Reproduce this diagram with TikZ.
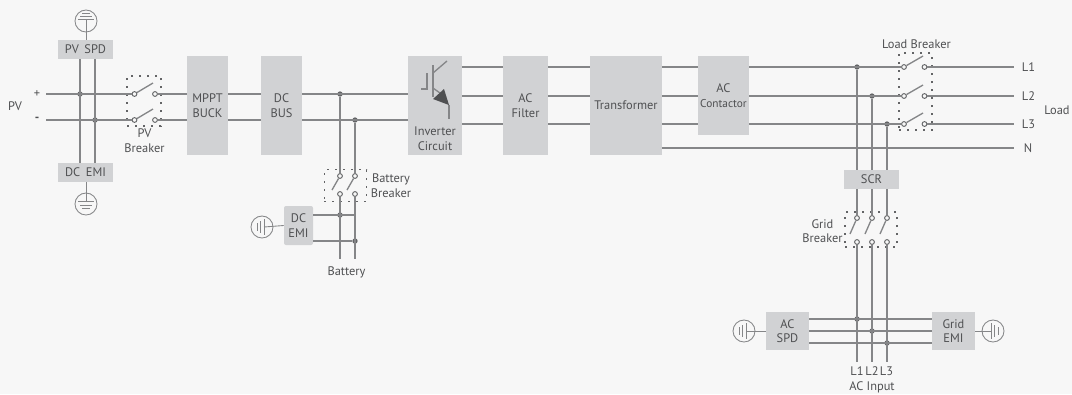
\documentclass[tikz,border=0pt]{standalone}
\usepackage{fontspec}
\setmainfont{PT Sans}
\definecolor{bg}{HTML}{F7F7F7}
\definecolor{boxc}{HTML}{D1D2D4}
\definecolor{wire}{HTML}{858688}
\definecolor{ink}{HTML}{4F5052}
\definecolor{dotc}{HTML}{636466}
\newcommand{\bx}[6]{\node[block,minimum width=#4*.75pt-#2*.75pt,minimum height=#5*.75pt-#3*.75pt,align=center] (#1) at ({(#2+#4)/2},{(#3+#5)/2}) {#6};}
\newcommand{\gndh}[4]{% name, cx, cy, dir
  \node[gnd] (#1) at (#2,#3) {};
  \draw[thinw] (#2+#4*2,#3-8) -- (#2+#4*2,#3+8);
  \draw[thinw] (#2-#4*1.5,#3-6) -- (#2-#4*1.5,#3+6);
  \draw[thinw] (#2-#4*5,#3-4) -- (#2-#4*5,#3+4);
}
\newcommand{\sw}[5]{% name, x,y, blade end dx, dy
  \node[contact] (#1) at (#2,#3) {};
  \draw[wireline] (#1) -- ++(#4,#5);
}
\tikzset{
  block/.style={fill=boxc,inner sep=0pt,text=ink,font=\fontsize{9.3pt}{11pt}\selectfont},
  lab/.style={inner sep=0pt,text=ink,align=center,font=\fontsize{9.3pt}{11pt}\selectfont},
  wireline/.style={draw=wire,line width=1pt},
  thinw/.style={draw=wire,line width=.65pt},
  contact/.style={circle,draw=dotc,fill=bg,line width=.7pt,inner sep=0pt,minimum size=3.6pt},
  dotj/.style={circle,fill=dotc,inner sep=0pt,minimum size=4pt},
  dotbox/.style={draw=dotc,line width=.85pt,dash pattern=on 1.5pt off 4.5pt,inner sep=0pt},
  gnd/.style={circle,draw=wire,line width=.65pt,inner sep=0pt,minimum size=16.5pt},
}
\begin{document}
\begin{tikzpicture}[x=.75pt,y=-.75pt]
\useasboundingbox (0,0) rectangle (1072,394);
\fill[bg] (0,0) rectangle (1072,394);

% blocks
\bx{pvspd}{58}{40}{113}{59}{PV\hspace{.45em}SPD}
\bx{dcemi}{58}{163}{113}{182}{DC\hspace{.45em}EMI}
\bx{mppt}{187}{56}{228}{155}{MPPT\\BUCK}
\bx{dcbus}{261}{56}{302}{155}{DC\\BUS}
\node[block,minimum width=40.5pt,minimum height=74.25pt] (inv) at (435,105.5) {};
\bx{acf}{503}{56}{548}{155}{AC\\Filter}
\bx{trans}{590}{56}{662}{155}{Transformer}
\bx{acc}{698}{56}{749}{135}{AC\\{\fontsize{8.5pt}{11pt}\selectfont Contactor}}
\bx{scr}{844}{170}{899}{189}{SCR}
\node[block,rounded corners=1.5pt,minimum width=21.75pt,minimum height=29.25pt,align=center] (bemi) at (298.5,225.5) {DC\\EMI};
\bx{acspd}{766}{312}{809}{350}{AC\\SPD}
\bx{gemi}{932}{312}{975}{350}{Grid\\EMI}
\node[lab] (invt) at (435,138.5) {Inverter\\Circuit};

% free ends
\coordinate (pvp) at (46,94);
\coordinate (pvn) at (46,120);
\coordinate (l1e) at (1014,67);
\coordinate (l2e) at (1014,96);
\coordinate (l3e) at (1014,124);
\coordinate (ne) at (1014,148);
\coordinate (ba) at (340,259);
\coordinate (bb) at (355,259);
\coordinate (ia) at (857,362);
\coordinate (ib) at (872,362);
\coordinate (ic) at (887,362);

% dotted boxes
\node[dotbox,minimum width=25.5pt,minimum height=37.5pt] (pvbrk) at (144,101) {};
\node[dotbox,minimum width=32pt,minimum height=23.5pt] (batbrk) at (345.5,185.5) {};
\node[dotbox,minimum width=39pt,minimum height=26.25pt] (grbrk) at (871,229.5) {};
\node[dotbox,minimum width=24.75pt,minimum height=57.75pt] (lbrk) at (915.5,91.5) {};

% junctions
\node[dotj] (j1) at (80,94) {};
\node[dotj] (j2) at (95,120) {};
\node[dotj] (j3) at (340,94) {};
\node[dotj] (j4) at (355,120) {};
\node[dotj] (j5) at (340,215) {};
\node[dotj] (j6) at (355,241) {};
\node[dotj] (j7) at (857,67) {};
\node[dotj] (j8) at (872,96) {};
\node[dotj] (j9) at (887,124) {};
\node[dotj] (j10) at (857,319) {};
\node[dotj] (j11) at (872,331) {};
\node[dotj] (j12) at (887,343) {};

% switches
\sw{pa}{134.5}{94}{18.5}{-11}
\sw{pb}{134.5}{120}{18.5}{-11}
\node[contact] (pc) at (155,94) {};
\node[contact] (pd) at (155,120) {};
\sw{ba1}{340}{176}{-8}{14}
\sw{bb1}{355}{176}{-8}{14}
\node[contact] (ba2) at (340,194) {};
\node[contact] (bb2) at (355,194) {};
\sw{ga1}{857}{218}{-7}{16}
\sw{gb1}{872}{218}{-7}{16}
\sw{gc1}{887}{218}{-7}{16}
\node[contact] (ga2) at (857,242) {};
\node[contact] (gb2) at (872,242) {};
\node[contact] (gc2) at (887,242) {};
\sw{la1}{904}{67}{19}{-11}
\sw{lb1}{904}{96}{19}{-11}
\sw{lc1}{904}{124}{19}{-11}
\node[contact] (la2) at (924.5,67) {};
\node[contact] (lb2) at (924.5,96) {};
\node[contact] (lc2) at (924.5,124) {};

% wires
\draw[wireline] (pvp) -- (pa) (pc) -- (pc -| mppt.west);
\draw[wireline] (pvn) -- (pb) (pd) -- (pd -| mppt.west);
\draw[wireline] (j1 |- pvspd.south) -- (j1 |- dcemi.north);
\draw[wireline] (j2 |- pvspd.south) -- (j2 |- dcemi.north);
\draw[wireline] (pc -| mppt.east) -- (pc -| dcbus.west) (pd -| mppt.east) -- (pd -| dcbus.west);
\draw[wireline] (pc -| dcbus.east) -- (pc -| inv.west) (pd -| dcbus.east) -- (pd -| inv.west);
\draw[wireline] (j3) -- (ba1) (j4) -- (bb1);
\draw[wireline] (ba2) -- (ba) (bb2) -- (bb);
\draw[wireline] (j5 -| bemi.east) -- (j5 -| bb) (j6 -| bemi.east) -- (j6);
\foreach \c in {l1e,l2e,l3e}{
  \draw[wireline] (\c -| inv.east) -- (\c -| acf.west);
  \draw[wireline] (\c -| acf.east) -- (\c -| trans.west);
  \draw[wireline] (\c -| trans.east) -- (\c -| acc.west);
}
\draw[wireline] (l1e -| acc.east) -- (la1) (la2) -- (l1e);
\draw[wireline] (l2e -| acc.east) -- (lb1) (lb2) -- (l2e);
\draw[wireline] (l3e -| acc.east) -- (lc1) (lc2) -- (l3e);
\draw[wireline] (ne -| trans.east) -- (ne);
\draw[wireline] (j7) -- (j7 |- scr.north) (j8) -- (j8 |- scr.north) (j9) -- (j9 |- scr.north);
\draw[wireline] (ga1 |- scr.south) -- (ga1) (gb1 |- scr.south) -- (gb1) (gc1 |- scr.south) -- (gc1);
\draw[wireline] (ga2) -- (ia) (gb2) -- (ib) (gc2) -- (ic);
\foreach \j in {j10,j11,j12}{
  \draw[wireline] (\j -| acspd.east) -- (\j -| gemi.west);
}

% grounds
\node[gnd] (g1) at (86,21) {};
\draw[thinw] (78,19.5) -- (94,19.5) (80,16.5) -- (92,16.5) (82,13.5) -- (90,13.5);
\draw[thinw] (86,19.5) -- (86,21 |- pvspd.north);
\node[gnd] (g2) at (86,204) {};
\draw[thinw] (78,201.5) -- (94,201.5) (80,205) -- (92,205) (82,208.5) -- (90,208.5);
\draw[thinw] (86,182) -- (86,201.5);
\gndh{g3}{262}{227}{1}
\draw[thinw] (264,227) -- (bemi.west);
\gndh{g4}{744}{331}{1}
\draw[thinw] (746,331) -- (acspd.west);
\gndh{g5}{993}{331}{-1}
\draw[thinw] (gemi.east) -- (991,331);

% IGBT symbol
\draw[wireline] (433,65) -- (433,97);
\draw[wireline] (421,89) -- (427,89) -- (427,73);
\draw[wireline] (433,73) -- (447,61);
\draw[wireline] (433,88) -- (440,93);
\fill[ink] (433,99) -- (444,89) -- (449,105) -- cycle;
\draw[wireline] (449,105) -- (449,119);

% labels
\node[lab] (tpv) at (15,106) {PV};
\node[lab] (tp) at (37,94) {+};
\node[lab] (tm) at (37,119.5) {\textbf{-}};
\node[lab] (tpvb) at (144.5,140.5) {PV\\Breaker};
\node[lab] (tbb) at (391,186) {Battery\\Breaker};
\node[lab] (tbat) at (346.5,272.5) {Battery};
\node[lab] (tlb) at (916.5,44) {Load Breaker};
\node[lab] (tl1) at (1028.5,67.5) {L1};
\node[lab] (tl2) at (1028.5,96) {L2};
\node[lab] (tl3) at (1028.5,124) {L3};
\node[lab] (tn) at (1028,148) {N};
\node[lab] (tload) at (1057,110.5) {Load};
\node[lab] (tgb) at (822.5,231) {Grid\\Breaker};
\node[lab] (ti1) at (857,371) {L1};
\node[lab] (ti2) at (872,371) {L2};
\node[lab] (ti3) at (886.5,371) {L3};
\node[lab] (tai) at (872,387) {AC Input};
\end{tikzpicture}
\end{document}
